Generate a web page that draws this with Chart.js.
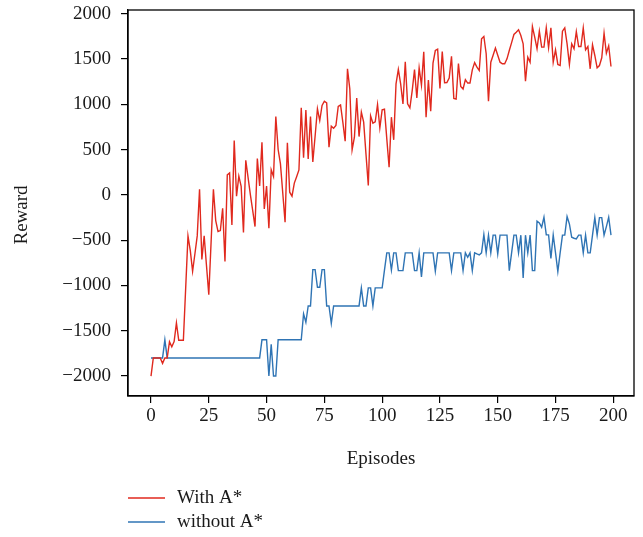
<!DOCTYPE html>
<html>
<head>
<meta charset="utf-8">
<title>Reward per episode</title>
<script src="https://cdn.jsdelivr.net/npm/chart.js@4.4.0/dist/chart.umd.min.js"></script>
<style>
  html, body { margin: 0; padding: 0; background: #fff; }
  #wrap { position: relative; width: 643px; height: 537px; }
</style>
</head>
<body>
<div id="wrap"><canvas id="chart" width="643" height="537"></canvas></div>
<script>
// episode index 0..199
const episodes = Array.from({ length: 200 }, (_, i) => i);

const rewardWithA = [
  -2000, -1800, -1800, -1800, -1800, -1860, -1800, -1800, -1620, -1677,
  -1620, -1414, -1605, -1605, -1605, -1030, -453, -615, -843, -650,
  -453, 62, -714, -453, -780, -1101, -520, 62, -284, -405,
  -394, -148, -736, 220, 242, -332, 600, -15, 206, 95,
  -416, 382, 190, -1, -175, -350, 400, 99, 581, -155,
  96, -368, 276, 202, 864, 500, 342, 20, -302, 575,
  29, -15, 130, 200, 275, 960, 410, 935, 397, 864,
  364, 650, 949, 820, 986, 1033, 1015, 526, 757, 735,
  765, 975, 993, 800, 592, 1391, 1170, 497, 636, 1067,
  643, 912, 802, 450, 103, 872, 791, 806, 997, 740,
  938, 945, 620, 305, 857, 607, 1225, 1385, 1225, 1004,
  1468, 1004, 960, 1151, 1382, 1070, 1400, 1210, 1578, 857,
  1266, 923, 1455, 1593, 1607, 1175, 1582, 1238, 1240, 1290,
  1530, 1065, 1058, 1450, 1195, 1168, 1272, 1234, 1234, 1380,
  1459, 1409, 1372, 1722, 1748, 1557, 1033, 1464, 1540, 1619,
  1540, 1464, 1446, 1446, 1501, 1593, 1680, 1770, 1795, 1822,
  1759, 1667, 1254, 1519, 1464, 1858, 1740, 1612, 1806, 1630,
  1630, 1843, 1623, 1843, 1464, 1600, 1439, 1427, 1806, 1843,
  1667, 1439, 1667, 1612, 1801, 1637, 1637, 1843, 1600, 1637,
  1391, 1656, 1538, 1402, 1427, 1513, 1784, 1563, 1645, 1416
];

const rewardWithoutA = [
  -1800, -1800, -1800, -1800, -1800, -1800, -1600, -1800, -1800, -1800,
  -1800, -1800, -1800, -1800, -1800, -1800, -1800, -1800, -1800, -1800,
  -1800, -1800, -1800, -1800, -1800, -1800, -1800, -1800, -1800, -1800,
  -1800, -1800, -1800, -1800, -1800, -1800, -1800, -1800, -1800, -1800,
  -1800, -1800, -1800, -1800, -1800, -1800, -1800, -1800, -1600, -1600,
  -1600, -2000, -1650, -2000, -2000, -1600, -1600, -1600, -1600, -1600,
  -1600, -1600, -1600, -1600, -1600, -1600, -1314, -1406, -1226, -1226,
  -825, -825, -1020, -1020, -825, -825, -1226, -1226, -1418, -1226,
  -1226, -1226, -1226, -1226, -1226, -1226, -1226, -1226, -1226, -1226,
  -1226, -1027, -1226, -1226, -1027, -1027, -1226, -1027, -1027, -1027,
  -1027, -830, -640, -640, -830, -640, -640, -836, -836, -836,
  -640, -640, -640, -640, -836, -836, -640, -905, -640, -640,
  -640, -640, -640, -843, -640, -640, -640, -640, -640, -640,
  -836, -640, -640, -640, -640, -836, -640, -689, -640, -836,
  -640, -652, -663, -640, -438, -640, -445, -640, -445, -445,
  -652, -445, -445, -445, -445, -836, -640, -445, -445, -640,
  -445, -916, -445, -640, -445, -836, -836, -291, -310, -357,
  -247, -442, -442, -703, -442, -640, -847, -640, -445, -445,
  -240, -321, -468, -479, -486, -445, -445, -640, -445, -640,
  -640, -445, -251, -445, -251, -251, -445, -350, -247, -445
];

const seriesNames = ['With A*', 'without A*'];
const seriesColors = ['#e0291e', '#2f74b4'];

const xTicks = [0, 25, 50, 75, 100, 125, 150, 175, 200];
const yTicks = [-2000, -1500, -1000, -500, 0, 500, 1000, 1500, 2000];

const FONT = '"Liberation Serif", "Times New Roman", serif';
const FONT_SIZE = 19;
const INK = '#1a1a1a';

Chart.defaults.font.family = FONT;
Chart.defaults.font.size = FONT_SIZE;
Chart.defaults.color = INK;

// box around the plotting area
const frame = {
  id: 'frame',
  afterDatasetsDraw(chart) {
    const { ctx, chartArea: a } = chart;
    ctx.save();
    ctx.strokeStyle = '#000';
    ctx.lineWidth = 1.3;
    ctx.strokeRect(a.left, a.top, a.right - a.left, a.bottom - a.top);
    ctx.restore();
  }
};

// y title and the stacked legend under the x axis
const extras = {
  id: 'extras',
  afterDraw(chart) {
    const { ctx } = chart;
    ctx.save();
    ctx.font = FONT_SIZE + 'px ' + FONT;
    ctx.fillStyle = INK;
    ctx.textAlign = 'center';
    ctx.textBaseline = 'middle';
    ctx.translate(22, 215);
    ctx.rotate(-Math.PI / 2);
    ctx.fillText('Reward', 0, 0);
    ctx.restore();

    ctx.save();
    ctx.font = FONT_SIZE + 'px ' + FONT;
    ctx.textBaseline = 'middle';
    chart.data.datasets.forEach((ds, i) => {
      const y = 498 + i * 24;
      ctx.strokeStyle = ds.borderColor;
      ctx.lineWidth = 1.4;
      ctx.beginPath();
      ctx.moveTo(128, y);
      ctx.lineTo(165, y);
      ctx.stroke();
      ctx.fillStyle = INK;
      ctx.fillText(ds.label, 177, y);
    });
    ctx.restore();
  }
};

const toPoints = (vals) => vals.map((v, i) => ({ x: episodes[i], y: v }));

new Chart(document.getElementById('chart'), {
  type: 'line',
  data: {
    datasets: [
      { label: seriesNames[0], data: toPoints(rewardWithA), borderColor: seriesColors[0] },
      { label: seriesNames[1], data: toPoints(rewardWithoutA), borderColor: seriesColors[1] }
    ]
  },
  options: {
    responsive: false,
    animation: false,
    devicePixelRatio: 1,
    layout: { padding: { top: 10, right: 9, bottom: 62, left: 0 } },
    elements: {
      point: { radius: 0 },
      line: { borderWidth: 1.4, tension: 0, fill: false }
    },
    plugins: { legend: { display: false }, tooltip: { enabled: false } },
    scales: {
      x: {
        type: 'linear',
        min: -9.95,
        max: 208.95,
        afterBuildTicks: s => { s.ticks = xTicks.map(v => ({ value: v })); },
        afterFit: s => { s.height = 79; s.paddingLeft = 0; s.paddingRight = 0; },
        grid: { drawOnChartArea: false, drawTicks: true, tickLength: 7, color: '#000', lineWidth: 1.2 },
        border: { display: true, color: '#000', width: 1.3 },
        ticks: { padding: 2, maxRotation: 0, color: INK },
        title: { display: true, text: 'Episodes', padding: { top: 0, bottom: 5 }, color: INK }
      },
      y: {
        type: 'linear',
        min: -2220,
        max: 2040,
        afterBuildTicks: s => { s.ticks = yTicks.map(v => ({ value: v })); },
        afterFit: s => { s.width = 128; s.paddingTop = 0; s.paddingBottom = 0; },
        grid: { drawOnChartArea: false, drawTicks: true, tickLength: 7, color: '#000', lineWidth: 1.2 },
        border: { display: true, color: '#000', width: 1.3 },
        ticks: {
          padding: 10,
          color: INK,
          callback: v => (v < 0 ? '\u2212' + Math.abs(v) : String(v))
        }
      }
    }
  },
  plugins: [frame, extras]
});
</script>
</body>
</html>
